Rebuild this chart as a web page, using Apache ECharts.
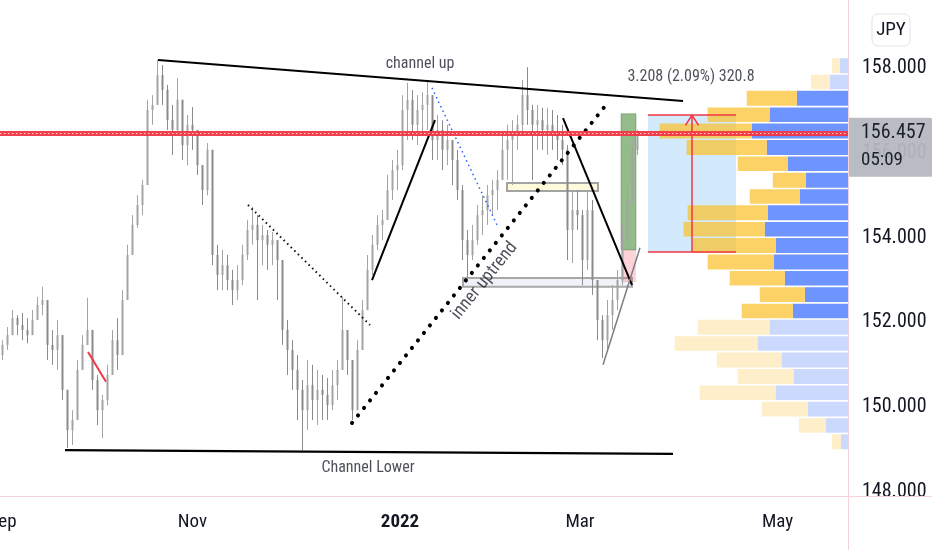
<!DOCTYPE html>
<html>
<head>
<meta charset="utf-8">
<script src="https://cdn.jsdelivr.net/npm/echarts@6/dist/echarts.min.js"></script>
<style>html,body{margin:0;padding:0;background:#fff}#c{width:932px;height:550px}</style>
</head>
<body>
<div id="c"></div>
<script>
// ---- daily candles [open, close, low, high] (GBP/JPY-like), one per slot ----
const candles = [
[151.23,151.47,151.11,151.58],[151.47,151.70,151.35,151.89],[151.70,152.10,151.70,152.29],[152.10,151.94,151.70,152.17],
[151.94,151.82,151.58,152.22],[151.82,151.70,151.51,152.10],[151.70,152.06,151.70,152.29],[152.06,152.41,152.06,152.60],
[152.41,152.53,152.17,152.84],[152.53,151.47,151.11,152.53],[151.47,151.35,151.00,151.82],[151.35,151.70,150.88,152.06],
[151.70,150.41,150.17,151.70],[150.41,149.46,149.04,150.41],[149.46,149.70,149.11,149.93],[149.70,150.88,149.70,151.11],
[150.88,151.47,150.88,151.70],[151.47,151.82,151.47,152.58],[151.82,150.64,150.41,151.82],[150.64,149.93,149.58,150.76],
[149.93,150.17,149.27,150.29],[150.17,150.76,150.05,151.00],[150.76,151.58,150.76,151.82],[151.58,151.23,150.88,152.10],
[151.23,152.53,151.23,152.76],[152.53,153.59,152.53,153.83],[153.59,154.30,153.59,154.53],[154.30,154.77,154.23,155.00],
[154.77,155.24,154.53,155.36],[155.24,157.01,155.24,157.25],[157.01,157.13,156.66,157.36],[157.13,157.83,157.13,158.19],
[157.83,157.48,157.13,158.07],[157.48,156.77,156.54,157.60],[156.77,156.54,155.95,157.13],[156.54,157.25,156.42,157.76],
[157.25,156.18,155.83,157.25],[156.18,156.66,155.71,156.89],[156.66,156.54,156.07,157.08],[156.54,155.71,155.48,156.54],
[155.71,155.12,154.77,155.71],[155.12,156.07,155.00,156.23],[156.07,153.59,153.35,156.07],[153.59,153.12,152.76,153.83],
[153.12,153.35,152.76,153.71],[153.35,153.00,152.76,153.59],[153.00,152.76,152.41,153.24],[152.76,153.00,152.53,153.35],
[153.00,153.59,152.88,153.83],[153.59,154.18,153.47,154.42],[154.18,154.30,153.83,154.72],[154.30,153.94,152.53,154.53],
[153.94,154.06,153.35,154.30],[154.06,153.83,153.24,154.18],[153.83,153.94,153.35,154.13],[153.94,153.47,152.53,153.94],
[153.47,151.82,151.47,153.47],[151.82,151.35,150.76,152.06],[151.35,150.88,150.41,151.58],[150.88,150.41,149.70,151.23],
[150.41,149.93,148.99,150.64],[149.93,150.52,149.46,151.11],[150.52,150.17,149.70,151.00],[150.17,150.41,149.58,150.88],
[150.41,150.29,149.70,150.76],[150.29,150.05,149.70,150.69],[150.05,150.52,149.93,150.88],[150.52,150.88,150.17,151.11],
[150.88,151.82,150.88,152.60],[151.82,151.11,150.76,151.82],[151.11,149.93,149.70,151.11],[149.93,151.35,149.93,151.58],
[151.35,152.29,151.35,152.53],[152.29,153.24,152.29,153.59],[153.24,153.83,153.12,154.06],[153.83,154.30,153.71,154.53],
[154.30,154.42,153.94,154.65],[154.42,155.12,154.42,155.48],[155.12,155.59,154.89,155.83],[155.59,155.71,155.12,156.07],
[155.71,157.01,155.59,157.36],[157.01,157.25,156.30,157.65],[157.25,156.66,156.30,157.48],[156.66,157.01,156.18,157.36],
[157.01,157.13,156.42,157.43],[157.13,157.36,156.54,157.72],[157.36,156.30,155.83,157.36],[156.30,156.54,155.83,156.89],
[156.54,156.07,155.59,156.77],[156.07,156.30,155.71,156.66],[156.30,155.83,155.24,156.30],[155.83,155.12,154.89,156.07],
[155.12,153.94,153.47,155.24],[153.94,153.59,153.05,154.18],[153.59,153.94,153.47,154.30],[153.94,154.53,153.83,154.77],
[154.53,154.65,154.06,155.00],[154.65,155.00,154.30,155.24],[155.00,155.12,154.53,155.36],[155.12,155.36,154.65,155.59],
[155.36,156.07,155.36,156.42],[156.07,156.30,155.36,156.66],[156.30,156.42,155.24,156.77],[156.42,156.66,156.07,156.89],
[156.66,157.36,156.42,157.72],[157.36,157.01,156.66,158.02],[157.01,156.66,155.36,157.13],[156.66,156.77,156.07,157.13],
[156.77,156.54,156.07,157.06],[156.54,156.66,155.95,157.06],[156.66,156.42,156.07,157.01],[156.42,156.30,155.83,156.89],
[156.30,156.07,155.71,156.66],[156.07,154.18,153.47,156.18],[154.18,154.65,153.40,155.12],[154.65,154.53,154.18,155.12],
[154.53,153.47,152.88,154.65],[153.47,154.65,153.24,155.08],[154.65,153.00,152.65,154.89],[153.00,152.06,151.58,153.00],
[152.06,151.58,151.16,152.17],[151.58,152.17,151.35,152.53],[152.17,152.53,151.82,152.88],[152.53,153.00,152.29,153.24],
[153.00,153.94,152.88,154.30],[153.94,154.89,153.83,155.24],[154.89,156.07,154.77,156.30],[156.07,156.457,155.95,156.54]
];
const lastPrice = 156.457;
const countdown = '05:09';
const currency = 'JPY';

// ---- x axis (slot index of month start) and price ticks ----
const tickLabels = ['Sep', 'Nov', '2022', 'Mar', 'May'];
const tickAt = [0, 38, 79.5, 115.5, 155];
const priceTicks = [148, 150, 152, 154, 156, 158];

// ---- volume profile rows (bottom -> top) ----
const vpLow  = [148.99,149.38,149.76,150.15,150.53,150.92,151.31,151.69,152.08,152.46,152.85,153.23,
                153.62,154.01,154.39,154.78,155.16,155.55,155.93,156.32,156.71,157.09,157.48,157.86];
const vpHigh = [149.38,149.76,150.15,150.53,150.92,151.31,151.69,152.08,152.46,152.85,153.23,153.62,
                154.01,154.39,154.78,155.16,155.55,155.93,156.32,156.71,157.09,157.48,157.86,158.25];
const vpUp   = [9,27,46,76,56,65,83,72,51,45,55,66,83,81,80,50,33,50,80,92,62,50,19,8];
const vpDown = [7,22,40,72,54,66,90,78,55,43,63,74,72,83,80,48,42,60,81,96,78,51,18,8];
const vpInValueArea = [0,0,0,0,0,0,0,0,1,1,1,1,1,1,1,1,1,1,1,1,1,1,0,0];

// ---- drawings (slot, price) ----
const channelUp   = [[31.1,158.19],[136.1,157.22]];
const channelLow  = [[12.5,148.99],[134.1,148.90]];
const redStroke   = [[17.1,151.30],[20.7,150.60]];
const dottedDown  = [[49.1,154.77],[73.5,151.94]];
const legUp       = [[73.9,153.00],[86.5,156.77]];
const blueDotted  = [[85.9,157.53],[99.1,154.25]];
const innerUp     = [[69.9,149.63],[120.5,157.10]];
const legDown     = [[112.1,156.82],[125.9,152.88]];
const greyWedge   = [[120.1,151.00],[127.5,153.76]];
const rangeArrow  = [[137.9,153.66],[137.9,156.89]];
const arrowHead   = [[136.6,156.65],[137.9,156.89],[139.2,156.65]];
const rangeTop    = [[129.1,156.89],[146.7,156.89]];
const rangeBottom = [[129.1,153.66],[146.7,153.66]];
const boxes = {
  yellow: [[100.9,155.29],[119.1,155.10]],
  grey:   [[92.1,153.05],[125.9,152.84]],
  green:  [[123.7,156.92],[126.7,153.71]],
  pink:   [[123.7,153.71],[126.7,152.95]],
  range:  [[129.1,156.89],[146.7,153.66]]
};
const notes = [
  {text:'channel up', at:[83.5,158.09], size:16, rotate:0},
  {text:'Channel Lower', at:[73.1,148.57], size:16, rotate:0},
  {text:'3.208 (2.09%) 320.8', at:[137.7,157.79], size:16, rotate:0},
  {text:'inner uptrend', at:[96.4,152.98], size:18, rotate:51}
];

const F = "'Liberation Sans Narrow', 'Roboto Condensed', Roboto, sans-serif";
const INK = '#131722';

const chart = echarts.init(document.getElementById('c'), null, {renderer:'canvas'});

function lineSeries(data, style, extra) {
  return Object.assign({
    type:'line', data:data, symbol:'none', silent:true, z:4,
    lineStyle:Object.assign({color:'#000', width:2}, style)
  }, extra || {});
}
function area(c, fill, border, bw) {
  return [{coord:c[0], itemStyle:{color:fill, borderColor:border, borderWidth:bw}}, {coord:c[1]}];
}

const vpMax = 4.5 * Math.max(...vpUp.map((u,i)=>u+vpDown[i]));

const option = {
  animation:false,
  backgroundColor:'#ffffff',
  grid:{left:0, right:84, top:0, bottom:54, containLabel:false, outerBoundsMode:'none'},
  xAxis:[{
    type:'value', min:-0.5, max:169.1,
    axisLine:{show:false}, axisTick:{show:false}, splitLine:{show:false},
    axisLabel:{
      customValues:tickAt, margin:17, hideOverlap:false,
      formatter:function(v){
        let k = 0, d = 1e9;
        tickAt.forEach((t,i)=>{ if (Math.abs(t-v) < d) { d = Math.abs(t-v); k = i; } });
        const s = tickLabels[k];
        return /^\d{4}$/.test(s) ? '{b|' + s + '}' : '{n|' + s + '}';
      },
      rich:{
        n:{fontFamily:F, fontSize:19, color:INK},
        b:{fontFamily:F, fontSize:19, color:INK, fontWeight:'bold'}
      }
    }
  },{
    type:'value', min:0, max:vpMax, inverse:true, show:false
  }],
  yAxis:{
    type:'value', position:'right', min:147.906, max:159.604,
    axisLine:{show:false}, axisTick:{show:false}, splitLine:{show:false},
    axisLabel:{customValues:priceTicks, formatter:v=>v.toFixed(3), margin:14,
               fontFamily:F, fontSize:20, color:INK}
  },
  series:[
    // volume profile
    {
      type:'custom', xAxisIndex:1, yAxisIndex:0, z:2, silent:true,
      encode:{x:[0,1], y:[2,3]},
      data:vpUp.map((u,i)=>[u, vpDown[i], vpLow[i], vpHigh[i], vpInValueArea[i]]),
      renderItem:function(params, api){
        const up = api.value(0), dn = api.value(1), lo = api.value(2), hi = api.value(3), va = api.value(4);
        const pR = api.coord([0, hi]);
        const pD = api.coord([dn, lo]);
        const pU = api.coord([dn+up, lo]);
        const top = pR[1] + 0.8, bot = pD[1] - 0.8;
        const blue = va ? 'rgba(41,98,255,0.68)' : 'rgba(41,98,255,0.24)';
        const yel  = va ? 'rgba(251,192,45,0.72)' : 'rgba(251,192,45,0.25)';
        return {type:'group', children:[
          {type:'rect', shape:{x:pD[0], y:top, width:pR[0]-pD[0], height:bot-top}, style:{fill:blue}},
          {type:'rect', shape:{x:pU[0], y:top, width:pD[0]-pU[0], height:bot-top}, style:{fill:yel}}
        ]};
      }
    },
    // candles
    {
      type:'custom', z:3, silent:true,
      encode:{x:0, y:[1,2,3,4]},
      data:candles.map((d,i)=>[i, d[0], d[1], d[2], d[3]]),
      renderItem:function(params, api){
        const i = api.value(0);
        const o = api.coord([i, api.value(1)]), c = api.coord([i, api.value(2)]);
        const l = api.coord([i, api.value(3)]), h = api.coord([i, api.value(4)]);
        const col = api.value(2) >= api.value(1) ? '#a4a4a4' : '#8a8a8a';
        const yT = Math.min(o[1], c[1]), hB = Math.max(1.2, Math.abs(o[1]-c[1]));
        return {type:'group', children:[
          {type:'line', shape:{x1:o[0], y1:h[1], x2:o[0], y2:l[1]}, style:{stroke:col, lineWidth:1}},
          {type:'rect', shape:{x:o[0]-1, y:yT, width:2, height:hB}, style:{fill:col}}
        ]};
      }
    },
    // boxes (on a host series)
    lineSeries(channelUp, {color:'#000', width:2}, {
      z:4,
      markArea:{silent:true, data:[
        area(boxes.yellow, 'rgba(255,245,190,0.55)', '#a3a3a3', 2),
        area(boxes.grey, 'rgba(226,232,242,0.55)', '#a8a8a8', 2),
        area(boxes.green, 'rgba(82,146,66,0.62)', 'rgba(70,120,60,0.4)', 1),
        area(boxes.pink, 'rgba(242,54,69,0.22)', 'rgba(242,54,69,0.0)', 0),
        area(boxes.range, 'rgba(33,150,243,0.2)', 'rgba(0,0,0,0)', 0)
      ]}
    }),
    lineSeries(channelLow, {color:'#000', width:2.2}),
    lineSeries(redStroke, {color:'#f23645', width:2}),
    lineSeries(dottedDown, {color:'#111', width:2, type:[1.5,3.5]}),
    lineSeries(legUp, {color:'#000', width:2}),
    lineSeries(blueDotted, {color:'#2962ff', width:1.5, type:[1.5,3.5]}),
    lineSeries(innerUp, {color:'#000', width:4, type:[0.1,9.5], cap:'round'}),
    lineSeries(legDown, {color:'#000', width:2}),
    lineSeries(greyWedge, {color:'#7b7e87', width:1.5}),
    lineSeries(rangeArrow, {color:'#f23645', width:1.5}),
    lineSeries(arrowHead, {color:'#f23645', width:1.5}),
    lineSeries(rangeTop, {color:'#f23645', width:1.5}),
    lineSeries(rangeBottom, {color:'#f23645', width:1.5}),
    // last price line + label
    {
      type:'line', data:[], z:6, silent:true,
      markLine:{
        silent:true, symbol:['none','none'],
        data:[
          {yAxis:lastPrice, lineStyle:{color:'#f23645', width:5, type:'solid', opacity:0.95},
           label:{show:true, position:'end', distance:1, offset:[0,14],
             formatter:'{a|' + lastPrice.toFixed(3) + '}\n{b|' + countdown + '}',
             backgroundColor:'#b5b8bf', borderRadius:[0,4,4,0], padding:[2,8,3,12],
             rich:{a:{fontFamily:F, fontSize:20, lineHeight:27, color:INK},
                   b:{fontFamily:F, fontSize:19, lineHeight:27, color:INK}}}},
          {yAxis:lastPrice, lineStyle:{color:'rgba(255,255,255,0.75)', width:1, type:[1.5,2.5]},
           label:{show:false}}
        ]
      }
    },
    // text notes
    {
      type:'scatter', z:7, silent:true, symbolSize:0,
      data:notes.map(n=>({value:n.at, name:n.text,
        label:{show:true, position:'inside', formatter:n.text, rotate:n.rotate,
               fontFamily:F, fontSize:n.size, color:'#1e222d'}}))
    }
  ],
  graphic:[
    {type:'rect', z:50, shape:{x:849, y:497, width:83, height:53}, style:{fill:'#ffffff'}},
    {type:'line', z:51, shape:{x1:848.5, y1:0, x2:848.5, y2:550}, style:{stroke:'#f6d3d7', lineWidth:1}},
    {type:'line', z:51, shape:{x1:0, y1:496.5, x2:932, y2:496.5}, style:{stroke:'#f6d3d7', lineWidth:1}},
    {type:'rect', z:51, shape:{x:872, y:14, width:38, height:32, r:6},
     style:{fill:'#ffffff', stroke:'#e0e3eb', lineWidth:1}},
    {type:'text', z:52, x:891, y:30, style:{text:currency, font:"19px " + F, fill:INK,
      textAlign:'center', textVerticalAlign:'middle'}}
  ]
};
chart.setOption(option);
</script>
</body>
</html>
